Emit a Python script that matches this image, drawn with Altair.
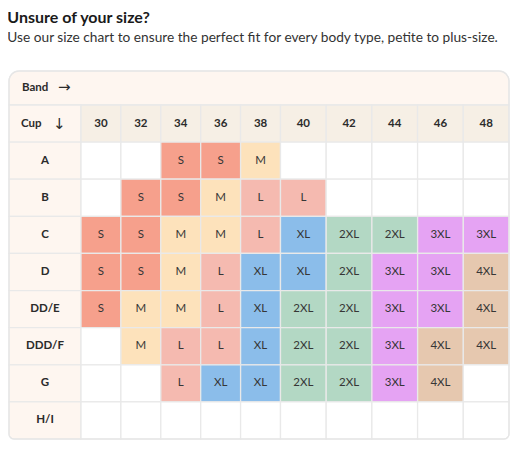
import altair as alt
import pandas as pd

title_text = "Unsure of your size?"
subtitle_text = "Use our size chart to ensure the perfect fit for every body type, petite to plus-size."
band_label = "Band"
cup_label = "Cup"

bands = ["30", "32", "34", "36", "38", "40", "42", "44", "46", "48"]
cups = ["A", "B", "C", "D", "DD/E", "DDD/F", "G", "H/I"]

size_A = ["", "", "S", "S", "M", "", "", "", "", ""]
size_B = ["", "S", "S", "M", "L", "L", "", "", "", ""]
size_C = ["S", "S", "M", "M", "L", "XL", "2XL", "2XL", "3XL", "3XL"]
size_D = ["S", "S", "M", "L", "XL", "XL", "2XL", "3XL", "3XL", "4XL"]
size_DDE = ["S", "M", "M", "L", "XL", "2XL", "2XL", "3XL", "3XL", "4XL"]
size_DDDF = ["", "M", "L", "L", "XL", "2XL", "2XL", "3XL", "4XL", "4XL"]
size_G = ["", "", "L", "XL", "XL", "2XL", "2XL", "3XL", "4XL", ""]
size_HI = ["", "", "", "", "", "", "", "", "", ""]
grid = [size_A, size_B, size_C, size_D, size_DDE, size_DDDF, size_G, size_HI]

size_order = ["none", "S", "M", "L", "XL", "2XL", "3XL", "4XL"]
size_colors = ["#FFFFFF", "#F6A08C", "#FDE2BB", "#F5BAB0", "#8BBDEA", "#B3D8C4", "#E5A3F3", "#E6C8AF"]

FONT = "Lato"
GRID = "#E9E9E9"
LABEL_BG = "#FEF6F0"
HEAD_BG = "#F6EFE5"
TXT = "#2B2B2B"

# ---- tables built from the arrays ----
nb, nc = len(bands), len(cups)
cells = []
for r, cup in enumerate(cups):
    for c, b in enumerate(bands):
        s = grid[r][c]
        cells.append({"cup": cup, "band": b, "size": s if s else "none", "label": s,
                      "x0": c + 1, "x1": c + 2, "xc": c + 1.5,
                      "y0": r + 2, "y1": r + 3, "yc": r + 2.5,
                      "corner": (r == nc - 1 and c == nb - 1)})
cells = pd.DataFrame(cells)

heads = pd.DataFrame({"band": bands,
                      "x0": [i + 1 for i in range(nb)], "x1": [i + 2 for i in range(nb)],
                      "xc": [i + 1.5 for i in range(nb)],
                      "y0": 1, "y1": 2, "yc": 1.5})

rows = pd.DataFrame({"cup": [cup_label] + cups,
                     "y0": [i + 1 for i in range(nc + 1)], "y1": [i + 2 for i in range(nc + 1)],
                     "yc": [i + 1.5 for i in range(nc + 1)],
                     "x0": 0, "x1": 1, "xc": 0.5})
rows["corner"] = rows["cup"] == cups[-1]

frame = pd.DataFrame({"x0": [0], "x1": [nb + 1], "y0": [0], "y1": [nc + 2]})
bandrow = pd.DataFrame({"x0": [0], "x1": [nb + 1], "y0": [0], "y1": [1], "yc": [0.5]})

# piecewise scales: label column wider, narrow band columns, wider band columns
xs = alt.Scale(domain=[0, 1, 6, nb + 1], range=[0, 72, 271.5, 500], zero=False, nice=False)
ys = alt.Scale(domain=[0, 1, nc + 2], range=[0, 34, 368], zero=False, nice=False)

X0 = alt.X("x0:Q", scale=xs, axis=None)
X1 = alt.X2("x1:Q")
Y0 = alt.Y("y0:Q", scale=ys, axis=None)
Y1 = alt.Y2("y1:Q")
XC = alt.X("xc:Q", scale=xs, axis=None)
YC = alt.Y("yc:Q", scale=ys, axis=None)

base_rect = dict(stroke=GRID, strokeWidth=1.3)

shadow = alt.Chart(frame).mark_rect(fill="#E4E4E4", cornerRadius=8, yOffset=2).encode(
    x=X0, x2=X1, y=Y0, y2=Y1)

band_bg = alt.Chart(bandrow).mark_rect(fill=LABEL_BG, cornerRadiusTopLeft=10,
                                       cornerRadiusTopRight=10, **base_rect).encode(
    x=X0, x2=X1, y=Y0, y2=Y1)

label_bg = alt.Chart(rows).transform_filter("!datum.corner").mark_rect(
    fill=LABEL_BG, **base_rect).encode(x=X0, x2=X1, y=Y0, y2=Y1)
label_bg_c = alt.Chart(rows).transform_filter("datum.corner").mark_rect(
    fill=LABEL_BG, cornerRadiusBottomLeft=5, **base_rect).encode(x=X0, x2=X1, y=Y0, y2=Y1)

head_bg = alt.Chart(heads).mark_rect(fill=HEAD_BG, **base_rect).encode(
    x=X0, x2=X1, y=Y0, y2=Y1)

color = alt.Color("size:N", scale=alt.Scale(domain=size_order, range=size_colors), legend=None)
cell_rect = alt.Chart(cells).transform_filter("!datum.corner").mark_rect(**base_rect).encode(
    x=X0, x2=X1, y=Y0, y2=Y1, fill=color)
cell_rect_c = alt.Chart(cells).transform_filter("datum.corner").mark_rect(
    cornerRadiusBottomRight=5, **base_rect).encode(x=X0, x2=X1, y=Y0, y2=Y1, fill=color)

border = alt.Chart(frame).mark_rect(fillOpacity=0, stroke="#E6E6E6", strokeWidth=1.2,
                                    cornerRadiusTopLeft=10, cornerRadiusTopRight=10,
                                    cornerRadiusBottomLeft=5, cornerRadiusBottomRight=5).encode(
    x=X0, x2=X1, y=Y0, y2=Y1)

cell_txt = alt.Chart(cells).mark_text(font=FONT, fontSize=11.5, color="#363636").encode(
    x=XC, y=YC, text="label:N")
head_txt = alt.Chart(heads).mark_text(font=FONT, fontSize=11.5, fontWeight="bold", color=TXT).encode(
    x=XC, y=YC, text="band:N")
row_txt = alt.Chart(rows).transform_filter(f"datum.cup != '{cup_label}'").mark_text(
    font=FONT, fontSize=11.5, fontWeight="bold", color=TXT).encode(x=XC, y=YC, text="cup:N")

x_left = alt.X("x0:Q", scale=xs, axis=None)
band_word = alt.Chart(bandrow).mark_text(font=FONT, fontSize=11.5, fontWeight="bold", color=TXT,
                                         align="left", dx=13).encode(
    x=x_left, y=YC, text=alt.value(band_label))
band_arrow = alt.Chart(bandrow).mark_text(font="DejaVu Sans", fontSize=15, color=TXT,
                                          align="left", dx=49, dy=-1).encode(
    x=x_left, y=YC, text=alt.value("\u2192"))
cup_word = alt.Chart(rows).transform_filter(f"datum.cup == '{cup_label}'").mark_text(
    font=FONT, fontSize=11.5, fontWeight="bold", color=TXT, align="left", dx=12).encode(
    x=x_left, y=YC, text="cup:N")
cup_arrow = alt.Chart(rows).transform_filter(f"datum.cup == '{cup_label}'").mark_text(
    font="DejaVu Sans", fontSize=15, color=TXT, align="left", dx=44).encode(
    x=x_left, y=YC, text=alt.value("\u2193"))

chart = alt.layer(
    shadow, band_bg, label_bg, label_bg_c, head_bg, cell_rect, cell_rect_c, border,
    cell_txt, head_txt, row_txt, band_word, band_arrow, cup_word, cup_arrow
).properties(
    width=500, height=368,
    title=alt.TitleParams(
        text=title_text, subtitle=subtitle_text, anchor="start", orient="top",
        font=FONT, fontSize=16, fontWeight="bold", color="#1A1A1A",
        subtitleFont=FONT, subtitleFontSize=13.7, subtitleColor="#333333",
        subtitlePadding=5, offset=26, dx=-1),
    autosize=alt.AutoSizeParams(type="none"),
    padding={"left": 1, "top": 63, "right": 5, "bottom": 5},
).configure_view(stroke=None)

chart.save("out.html", embed_options={"renderer": "svg", "actions": False})
